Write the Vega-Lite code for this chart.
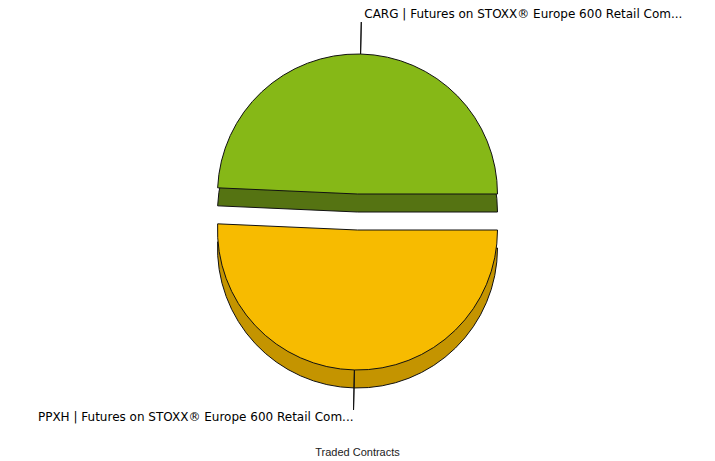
{
  "$schema": "https://vega.github.io/schema/vega-lite/v6.json",
  "width": 715,
  "height": 424,
  "padding": 0,
  "view": {"stroke": null},
  "background": "white",
  "title": {"text": "Traded Contracts", "orient": "bottom", "anchor": "middle", "font": "Liberation Sans", "fontSize": 11, "fontWeight": "normal", "color": "#222222", "offset": 23},
  "data": {"values": [
    {"code": "CARG", "label": "CARG | Futures on STOXX® Europe 600 Retail Com...", "contracts": 493},
    {"code": "PPXH", "label": "PPXH | Futures on STOXX® Europe 600 Retail Com...", "contracts": 507}
  ]},
  "transform": [
    {"stack": "contracts", "groupby": [], "as": ["v0", "v1"], "offset": "normalize", "sort": [{"field": "code", "order": "descending"}]}
  ],
  "layer": [
    {
      "transform": [{"filter": "datum.code == 'CARG'"}],
      "mark": {"type": "arc", "outerRadius": 140, "fill": "#557312", "stroke": "#111111", "strokeWidth": 1, "yOffset": 0},
      "encoding": {
        "theta": {"field": "v0", "type": "quantitative", "scale": {"type": "linear", "domain": [0, 1], "range": [1.5708, 7.854], "zero": false}},
        "theta2": {"field": "v1"}
      }
    },
    {
      "transform": [{"filter": "datum.code == 'PPXH'"}],
      "mark": {"type": "arc", "outerRadius": 140, "fill": "#c49400", "stroke": "#111111", "strokeWidth": 1, "yOffset": 36},
      "encoding": {
        "theta": {"field": "v0", "type": "quantitative", "scale": {"type": "linear", "domain": [0, 1], "range": [1.5708, 7.854], "zero": false}},
        "theta2": {"field": "v1"}
      }
    },
    {
      "transform": [{"filter": "datum.code == 'CARG'"}],
      "mark": {"type": "arc", "outerRadius": 140, "fill": "#86b817", "stroke": "#111111", "strokeWidth": 1, "yOffset": -18},
      "encoding": {
        "theta": {"field": "v0", "type": "quantitative", "scale": {"type": "linear", "domain": [0, 1], "range": [1.5708, 7.854], "zero": false}},
        "theta2": {"field": "v1"}
      }
    },
    {
      "transform": [{"filter": "datum.code == 'PPXH'"}],
      "mark": {"type": "arc", "outerRadius": 140, "fill": "#f7bb00", "stroke": "#111111", "strokeWidth": 1, "yOffset": 18},
      "encoding": {
        "theta": {"field": "v0", "type": "quantitative", "scale": {"type": "linear", "domain": [0, 1], "range": [1.5708, 7.854], "zero": false}},
        "theta2": {"field": "v1"}
      }
    },
    {
      "transform": [
        {"fold": ["v0", "v1"], "as": ["edge", "pos"]},
        {"aggregate": [{"op": "mean", "field": "pos", "as": "mid"}], "groupby": ["code", "label"]},
        {"filter": "datum.code == 'CARG'"}
      ],
      "layer": [
        {
          "mark": {"type": "arc", "innerRadius": 140, "outerRadius": 172, "fill": null, "stroke": "#111111", "strokeWidth": 1, "yOffset": -18},
          "encoding": {
            "theta": {"field": "mid", "type": "quantitative", "scale": {"type": "linear", "domain": [0, 1], "range": [1.5708, 7.854], "zero": false}},
            "theta2": {"field": "mid"}
          }
        },
        {
          "mark": {"type": "text", "radius": 172, "align": "left", "baseline": "bottom", "dx": 3, "dy": -1, "font": "DejaVu Sans", "fontSize": 12, "color": "#000000", "yOffset": -18},
          "encoding": {
            "theta": {"field": "mid", "type": "quantitative", "scale": {"type": "linear", "domain": [0, 1], "range": [1.5708, 7.854], "zero": false}},
            "text": {"field": "label"}
          }
        }
      ]
    },
    {
      "transform": [
        {"fold": ["v0", "v1"], "as": ["edge", "pos"]},
        {"aggregate": [{"op": "mean", "field": "pos", "as": "mid"}], "groupby": ["code", "label"]},
        {"filter": "datum.code == 'PPXH'"}
      ],
      "layer": [
        {
          "mark": {"type": "arc", "innerRadius": 140, "outerRadius": 180, "fill": null, "stroke": "#111111", "strokeWidth": 1, "yOffset": 18},
          "encoding": {
            "theta": {"field": "mid", "type": "quantitative", "scale": {"type": "linear", "domain": [0, 1], "range": [1.5708, 7.854], "zero": false}},
            "theta2": {"field": "mid"}
          }
        },
        {
          "mark": {"type": "text", "radius": 180, "align": "right", "baseline": "top", "dx": 0, "dy": 2, "font": "DejaVu Sans", "fontSize": 12, "color": "#000000", "yOffset": 18},
          "encoding": {
            "theta": {"field": "mid", "type": "quantitative", "scale": {"type": "linear", "domain": [0, 1], "range": [1.5708, 7.854], "zero": false}},
            "text": {"field": "label"}
          }
        }
      ]
    }
  ]
}
